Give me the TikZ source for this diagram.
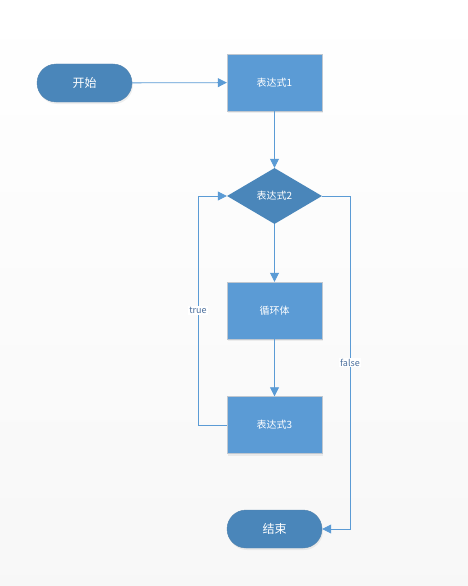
\documentclass[tikz,border=0pt]{standalone}
\usepackage{fontspec}
\newfontfamily\cjk{Noto Sans CJK SC}
\usetikzlibrary{shapes.geometric,shapes.misc,arrows.meta,shadows}
\definecolor{boxblue}{HTML}{5B9BD5}
\definecolor{darkblue}{HTML}{4A86BA}
\definecolor{edgegray}{HTML}{BFC7D0}
\definecolor{labelblue}{HTML}{4A6E9C}
\begin{document}
\begin{tikzpicture}[
            x = 1pt, y = -1pt,
            box/.style = {draw = edgegray, fill = boxblue, text = white, font = \cjk\fontsize{10}{12}\selectfont,
                minimum width = 95pt, minimum height = 57pt, inner sep = 0pt,
                drop shadow = {opacity = 0.12, shadow xshift = 1pt, shadow yshift = -2pt}},
            term/.style = {rounded rectangle, draw = darkblue!80!gray, fill = darkblue, text = white,
                font = \cjk\fontsize{12}{14}\selectfont, minimum width = 95pt, minimum height = 38pt, inner sep = 0pt,
                drop shadow = {opacity = 0.12, shadow xshift = 1pt, shadow yshift = -2pt}},
            cond/.style = {diamond, fill = darkblue, text = white, font = \cjk\fontsize{10}{12}\selectfont,
                minimum width = 95pt, minimum height = 56pt, inner sep = 0pt, aspect = 1.7},
            lab/.style = {fill = white, text = labelblue, font = \cjk\fontsize{9}{11}\selectfont, inner sep = 1pt},
            arr/.style = {draw = boxblue, thick, -{Triangle[length = 9pt, width = 9pt]}},
        ]
        \shade[top color = white, bottom color = black!3] (0,0) rectangle (468,586);
        \useasboundingbox (0,0) rectangle (468,586);

        \node (START) [term] at (84.5, 83) {开始};
        \node (E1) [box] at (274.5, 82.5) {表达式1};
        \node (E2) [cond] at (274.5, 196) {表达式2};
        \node (BODY) [box] at (274.5, 310.5) {循环体};
        \node (E3) [box] at (274.5, 425) {表达式3};
        \node (END) [term] at (274.5, 529) {结束};

        \coordinate (TL) at (198, 425);
        \coordinate (TU) at (198, 196);
        \coordinate (FU) at (350, 196);
        \coordinate (FL) at (350, 529);

        \path[arr] (START) -- (E1);
        \path[arr] (E1) -- (E2);
        \path[arr] (E2) -- (BODY);
        \path[arr] (BODY) -- (E3);

        \path[arr] (E3.west) -- (TL) -- node[lab] {true} (TU) -- (E2.west);
        \path[arr] (E2.east) -- (FU) -- node[lab, pos = 0.5] {false} (FL) -- (END.east);
    \end{tikzpicture}
\end{document}
